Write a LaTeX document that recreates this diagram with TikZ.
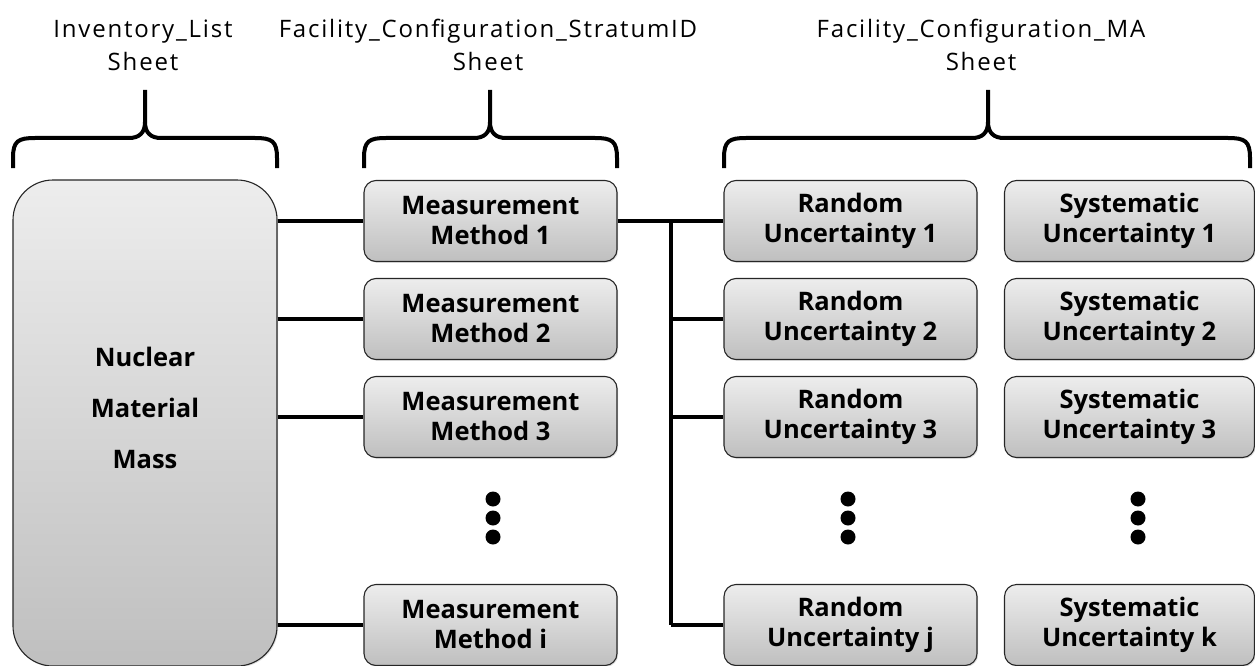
\documentclass[tikz,border=0pt]{standalone}
\usepackage{fontspec}
\setmainfont{Open Sans}
\newfontfamily\titlefont[LetterSpace=7.5]{Open Sans}
\usetikzlibrary{shadows}
\definecolor{boxtop}{HTML}{EDEDED}
\definecolor{boxbot}{HTML}{BFBFBF}
\newcommand\sheetbrace[3]{%
  \draw[bracestyle] ({#1},168) -- ({#1},158) .. controls ({#1},141) and ({#1+5},138) .. ({#1+22},138)
    -- ({#2-16},138) .. controls ({#2-6},138) and ({#2},133) .. ({#2},122) -- ({#2},90);
  \draw[bracestyle] ({#3},168) -- ({#3},158) .. controls ({#3},141) and ({#3-5},138) .. ({#3-22},138)
    -- ({#2+16},138) .. controls ({#2+6},138) and ({#2},133) .. ({#2},122);
}
\begin{document}
\begin{tikzpicture}[x=1pt,y=-1pt,
  box/.style={draw=black!85, line width=1.1pt, rounded corners=12pt,
    top color=boxtop, bottom color=boxbot, minimum width=253pt, minimum height=81pt,
    align=center, inner sep=0pt,
    font=\bfseries\fontsize{25.5}{30}\selectfont,
    drop shadow={opacity=0.25,shadow xshift=1.2pt,shadow yshift=-1.2pt}},
  bigbox/.style={box, rounded corners=40pt, minimum width=264pt, minimum height=486pt},
  bigtext/.style={align=center, inner sep=0pt, font=\bfseries\fontsize{25.5}{51}\selectfont},
  conn/.style={line width=4pt},
  bracestyle/.style={line width=4pt},
  title/.style={align=center, font=\titlefont\fontsize{24}{33}\selectfont, inner sep=0pt},
  dot/.style={circle, fill=black, minimum size=15pt, inner sep=0pt}
]
\useasboundingbox (0,0) rectangle (1255,666);

% titles
\node[title] (t1) at (143,45) {Inventory\_List\\Sheet};
\node[title] (t2) at (488,45) {Facility\_Configuration\_StratumID\\Sheet};
\node[title] (t3) at (981,45) {Facility\_Configuration\_MA\\Sheet};

% braces
\sheetbrace{13}{145}{277}
\sheetbrace{364}{490}{617}
\sheetbrace{724}{988}{1250}

% big box
\node[bigbox] (nm) at (145,423) {};
\node[bigtext] (nmt) at (145,408) {Nuclear\\Material\\Mass};

% measurement methods
\node[box] (m1) at (490.5,221) {Measurement\\Method 1};
\node[box] (m2) at (490.5,319) {Measurement\\Method 2};
\node[box] (m3) at (490.5,417) {Measurement\\Method 3};
\node[box] (mi) at (490.5,625) {Measurement\\Method i};

% random
\node[box] (r1) at (850.5,221) {Random\\Uncertainty 1};
\node[box] (r2) at (850.5,319) {Random\\Uncertainty 2};
\node[box] (r3) at (850.5,417) {Random\\Uncertainty 3};
\node[box] (rj) at (850.5,625) {Random\\Uncertainty j};

% systematic
\node[box, minimum width=250pt] (s1) at (1129.5,221) {Systematic\\Uncertainty 1};
\node[box, minimum width=250pt] (s2) at (1129.5,319) {Systematic\\Uncertainty 2};
\node[box, minimum width=250pt] (s3) at (1129.5,417) {Systematic\\Uncertainty 3};
\node[box, minimum width=250pt] (sk) at (1129.5,625) {Systematic\\Uncertainty k};

% dots
\foreach \x/\n in {493/m, 848/r, 1138/s}{
  \node[dot] (\n d1) at (\x,499) {};
  \node[dot] (\n d2) at (\x,518) {};
  \node[dot] (\n d3) at (\x,537) {};
}

% connectors from big box
\foreach \m in {m1,m2,m3,mi}{
  \draw[conn] (\m.west -| nm.east) -- (\m.west);
}

% trunk
\coordinate (trunk) at (671,0);
\draw[conn] (m1.east) -- (r1.west);
\draw[conn] (m1.east -| trunk) -- (rj.west -| trunk);
\foreach \r in {r2,r3,rj}{
  \draw[conn] (\r.west -| trunk) -- (\r.west);
}
\end{tikzpicture}
\end{document}
